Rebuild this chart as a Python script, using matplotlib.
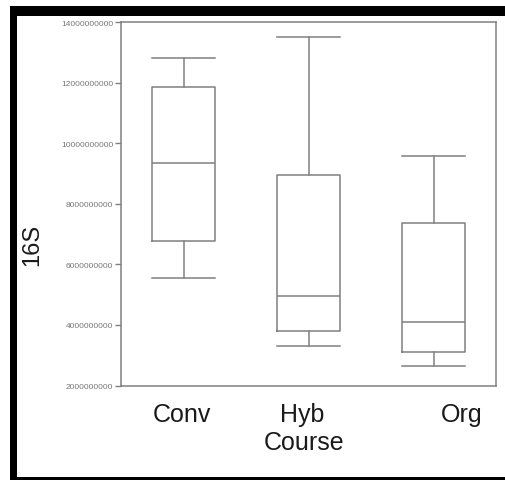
import matplotlib
matplotlib.use("Agg")
import matplotlib.pyplot as plt
from matplotlib.patches import Rectangle
from matplotlib.ticker import FixedLocator, FixedFormatter

categories = ["Conv", "Hyb", "Org"]
whisker_hi = [12.80e9, 13.51e9, 9.58e9]
q3 = [11.85e9, 8.95e9, 7.36e9]
median = [9.345e9, 4.96e9, 4.11e9]
q1 = [6.78e9, 3.81e9, 3.10e9]
whisker_lo = [5.54e9, 3.31e9, 2.64e9]
yticks = [2e9, 4e9, 6e9, 8e9, 10e9, 12e9, 14e9]
ytick_labels = ["2000000000", "4000000000", "6000000000", "8000000000",
                "10000000000", "12000000000", "14000000000"]
xlabel = "Course"
ylabel = "16S"

plt.rcParams['font.family'] = ['Liberation Sans', 'DejaVu Sans']
W, H = 506, 481
fig = plt.figure(figsize=(W / 100, H / 100), dpi=100)
fig.patch.set_facecolor("white")

# black frame
def frect(x0, y0, x1, y1):
    fig.patches.append(Rectangle((x0 / W, 1 - y1 / H), (x1 - x0) / W, (y1 - y0) / H,
                                 transform=fig.transFigure, facecolor="black",
                                 edgecolor="none", zorder=0))
frect(10, 7, W, 17)
frect(10, 7, 17, H)
frect(10, 478, W, H)

ax = fig.add_axes([121 / W, 1 - 386.5 / H, (496 - 121) / W, (386.5 - 23) / H])
gray = "#808080"
stats = []
for i, c in enumerate(categories):
    stats.append(dict(label=c, whishi=whisker_hi[i], q3=q3[i], med=median[i],
                      q1=q1[i], whislo=whisker_lo[i], fliers=[]))
lp = dict(color=gray, linewidth=1.1)
ax.bxp(stats, positions=[1, 2, 3], widths=0.5, showfliers=False,
       boxprops=lp, whiskerprops=lp, capprops=lp, medianprops=lp,
       capwidths=0.5)
ax.set_xlim(0.5, 3.5)
ax.set_ylim(2e9, 14e9)
ax.yaxis.set_major_locator(FixedLocator(yticks))
ax.yaxis.set_major_formatter(FixedFormatter(ytick_labels))
ax.tick_params(axis="y", labelsize=6, labelcolor="#777777", color=gray, length=4.5,
               width=1, pad=1)
ax.set_xticks([])
for s in ax.spines.values():
    s.set_color(gray)
    s.set_linewidth(1.1)

# category labels and axis labels placed as in the reference
label_x = [182, 302, 462]
for c, x in zip(categories, label_x):
    fig.text(x / W, 1 - 415 / H, c, ha="center", va="center", fontsize=18, color="#1a1a1a")
fig.text(304 / W, 1 - 443 / H, xlabel, ha="center", va="center", fontsize=18, color="#1a1a1a")
fig.text(32 / W, 1 - 245 / H, ylabel, ha="center", va="center", fontsize=17,
         rotation=90, color="#1a1a1a")

fig.savefig("out.png", dpi=100, facecolor="white")
